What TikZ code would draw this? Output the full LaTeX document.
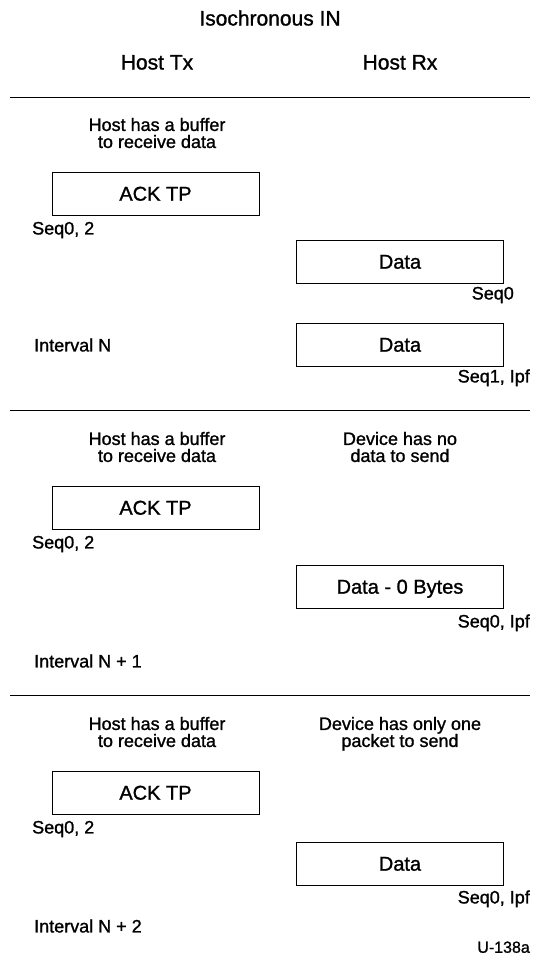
\documentclass[tikz,border=0pt]{standalone}
\usepackage{fontspec}
\setmainfont{Liberation Sans}[FakeBold=1.2]
\usetikzlibrary{positioning}

\begin{document}
\begin{tikzpicture}[x=1pt,y=-1pt,
    lbl/.style={font=\fontsize{18}{17}\selectfont, inner sep=0pt, align=center, text height=12.9pt, text depth=0pt},
    head/.style={font=\fontsize{21}{24}\selectfont, inner sep=0pt, text height=15pt, text depth=0pt},
    packet/.style={draw, line width=0.9pt, minimum width=207pt, minimum height=43pt, inner sep=0pt,
        font=\fontsize{20}{22}\selectfont, text height=14.3pt, text depth=0pt},
    rule/.style={line width=0.9pt}]
        \useasboundingbox (0,0) rectangle (535,962);
        \node[head] (title) at (270,18) {Isochronous IN};
        \node[head] (tx) at (157,62) {Host Tx};
        \node[head] (rx) at (400,62) {Host Rx};
        \foreach \y in {97,410,695} {
            \draw[rule] (10,\y) -- (530,\y);
        }
        % host side, same in every interval
        \foreach \n/\y in {1/193.5,2/507.5,3/792.5} {
            \node[lbl] (buf\n) at (157,\y-52) {Host has a buffer\\to receive data};
            \node[packet] (ack\n) at (155.5,\y) {ACK TP};
            \node[lbl, anchor=west] (ackseq\n) at (32,\y+34.5) {Seq0, 2};
        }
        % interval N
        \node[packet] (dataa) at (400,261.5) {Data};
        \node[lbl, anchor=east] (seqa) at (514,293) {Seq0};
        \node[packet] (datab) at (400,344.5) {Data};
        \node[lbl, anchor=west] (intn) at (34,345) {Interval N};
        \node[lbl, anchor=east] (seqb) at (530,376) {Seq1, Ipf};
        % interval N + 1
        \node[lbl] (dev2) at (400,455.5) {Device has no\\data to send};
        \node[packet] (datac) at (400,586.5) {Data - 0 Bytes};
        \node[lbl, anchor=east] (seqc) at (530,621) {Seq0, Ipf};
        \node[lbl, anchor=west] (intn1) at (34,661) {Interval N + 1};
        % interval N + 2
        \node[lbl] (dev3) at (400,740.5) {Device has only one\\packet to send};
        \node[packet] (datad) at (400,863.5) {Data};
        \node[lbl, anchor=east] (seqd) at (530,897) {Seq0, Ipf};
        \node[lbl, anchor=west] (intn2) at (34,926) {Interval N + 2};
        \node[lbl, anchor=east, font=\fontsize{16}{17}\selectfont, text height=11.5pt] (fig) at (530,947) {U-138a};
    \end{tikzpicture}
\end{document}
